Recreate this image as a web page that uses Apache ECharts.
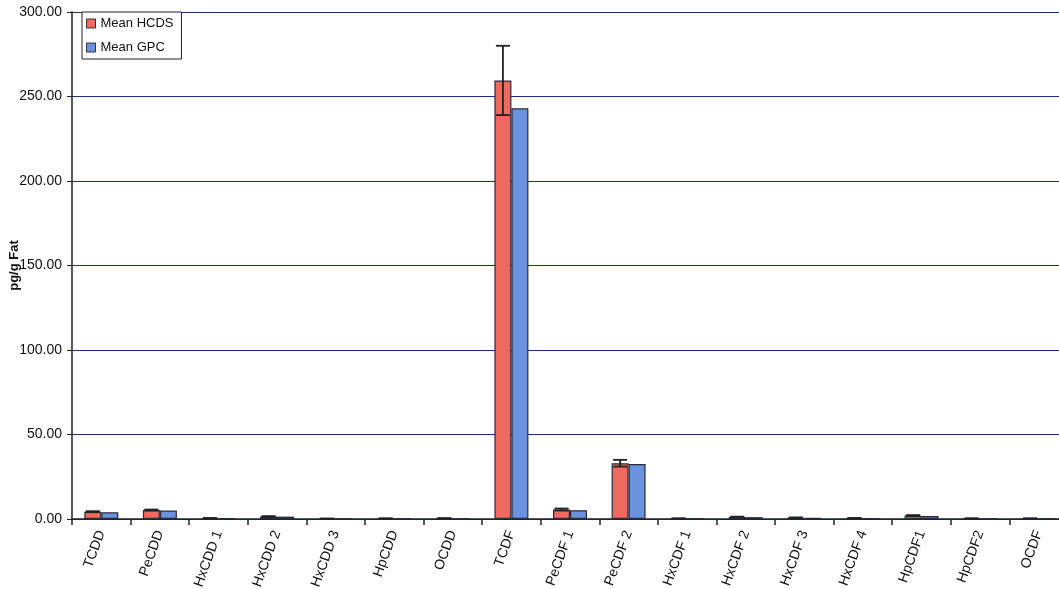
<!DOCTYPE html>
<html>
<head>
<meta charset="utf-8">
<script src="https://cdn.jsdelivr.net/npm/echarts@6/dist/echarts.min.js"></script>
<style>
html, body { margin: 0; padding: 0; background: #fff; }
#chart { width: 1059px; height: 589px; }
</style>
</head>
<body>
<div id="chart"></div>
<script>
var categories = ['TCDD', 'PeCDD', 'HxCDD 1', 'HxCDD 2', 'HxCDD 3', 'HpCDD', 'OCDD', 'TCDF',
    'PeCDF 1', 'PeCDF 2', 'HxCDF 1', 'HxCDF 2', 'HxCDF 3', 'HxCDF 4', 'HpCDF1', 'HpCDF2', 'OCDF'];
var meanHCDS = [4.3, 5.3, 0.5, 1.5, 0.2, 0.3, 0.4, 259.5, 5.6, 33.0, 0.3, 1.2, 0.8, 0.5, 2.0, 0.3, 0.3];
var meanGPC = [4.0, 5.0, 0.4, 1.4, 0.2, 0.3, 0.3, 243.0, 5.2, 32.5, 0.3, 1.1, 0.7, 0.4, 1.8, 0.3, 0.3];
var errHCDS = [0.3, 0.3, 0.1, 0.2, 0.1, 0.1, 0.1, 20.5, 0.6, 2.0, 0.1, 0.2, 0.1, 0.1, 0.3, 0.1, 0.1];

var dom = document.getElementById("chart");
var myChart = echarts.init(dom);

// error bars on the HCDS bars
var errData = meanHCDS.map(function (v, i) {
    return [i, v - errHCDS[i], v + errHCDS[i]];
});

var option = {
    animation: false,
    backgroundColor: '#ffffff',
    legend: {
        orient: 'vertical',
        left: 82,
        top: 12,
        icon: 'rect',
        itemWidth: 9,
        itemHeight: 9,
        itemGap: 11,
        padding: [5, 8, 5, 4],
        borderColor: '#222',
        borderWidth: 1,
        backgroundColor: '#fff',
        textStyle: { fontSize: 13, color: '#111', fontFamily: 'Liberation Sans' },
        itemStyle: { borderColor: '#333', borderWidth: 1 },
        data: ['Mean HCDS', 'Mean GPC']
    },
    grid: {
        left: 72,
        right: -9,
        top: 12,
        bottom: 70,
        outerBoundsMode: 'none',
        containLabel: false
    },
    xAxis: {
        type: 'category',
        data: categories,
        axisLine: { lineStyle: { color: '#222', width: 1.5 } },
        axisTick: { show: true, length: 6, lineStyle: { color: '#222', width: 1.5 } },
        axisLabel: {
            rotate: 70,
            fontSize: 14,
            color: '#111',
            fontFamily: 'Liberation Sans',
            margin: 12
        }
    },
    yAxis: {
        type: 'value',
        min: 0,
        max: 300,
        interval: 50,
        name: 'pg/g Fat',
        nameLocation: 'middle',
        nameGap: 51,
        nameMoveOverlap: false,
        nameTextStyle: { fontSize: 13, fontWeight: 'bold', color: '#111', fontFamily: 'Liberation Sans' },
        axisLine: { show: true, lineStyle: { color: '#222', width: 1.5 } },
        axisTick: { show: true, length: 5, lineStyle: { color: '#222' } },
        axisLabel: {
            formatter: function (v) { return v.toFixed(2); },
            fontSize: 14,
            color: '#111',
            fontFamily: 'Liberation Sans',
            margin: 10
        },
        splitLine: { lineStyle: { color: '#1c3170', width: 1.2 } }
    },
    series: [
        {
            name: 'Mean HCDS',
            type: 'bar',
            data: meanHCDS,
            barGap: '0%',
            barCategoryGap: '42%',
            itemStyle: { color: '#ee6a5f', borderColor: '#2a2a3a', borderWidth: 1.2 }
        },
        {
            name: 'Mean GPC',
            type: 'bar',
            data: meanGPC,
            itemStyle: { color: '#6b92de', borderColor: '#2a2a3a', borderWidth: 1.2 }
        },
        {
            type: 'custom',
            name: 'err',
            data: errData,
            z: 10,
            renderItem: function (params, api) {
                var idx = api.value(0);
                var band = api.size([1, 0])[0];
                var off = -band * 0.145;
                var lo = api.coord([idx, api.value(1)]);
                var hi = api.coord([idx, api.value(2)]);
                var x = lo[0] + off;
                var cap = 7;
                var st = { stroke: '#222', lineWidth: 1.8 };
                return {
                    type: 'group',
                    children: [
                        { type: 'line', shape: { x1: x, y1: lo[1], x2: x, y2: hi[1] }, style: st },
                        { type: 'line', shape: { x1: x - cap, y1: hi[1], x2: x + cap, y2: hi[1] }, style: st },
                        { type: 'line', shape: { x1: x - cap, y1: lo[1], x2: x + cap, y2: lo[1] }, style: st }
                    ]
                };
            }
        }
    ]
};

myChart.setOption(option, true);
</script>
</body>
</html>
